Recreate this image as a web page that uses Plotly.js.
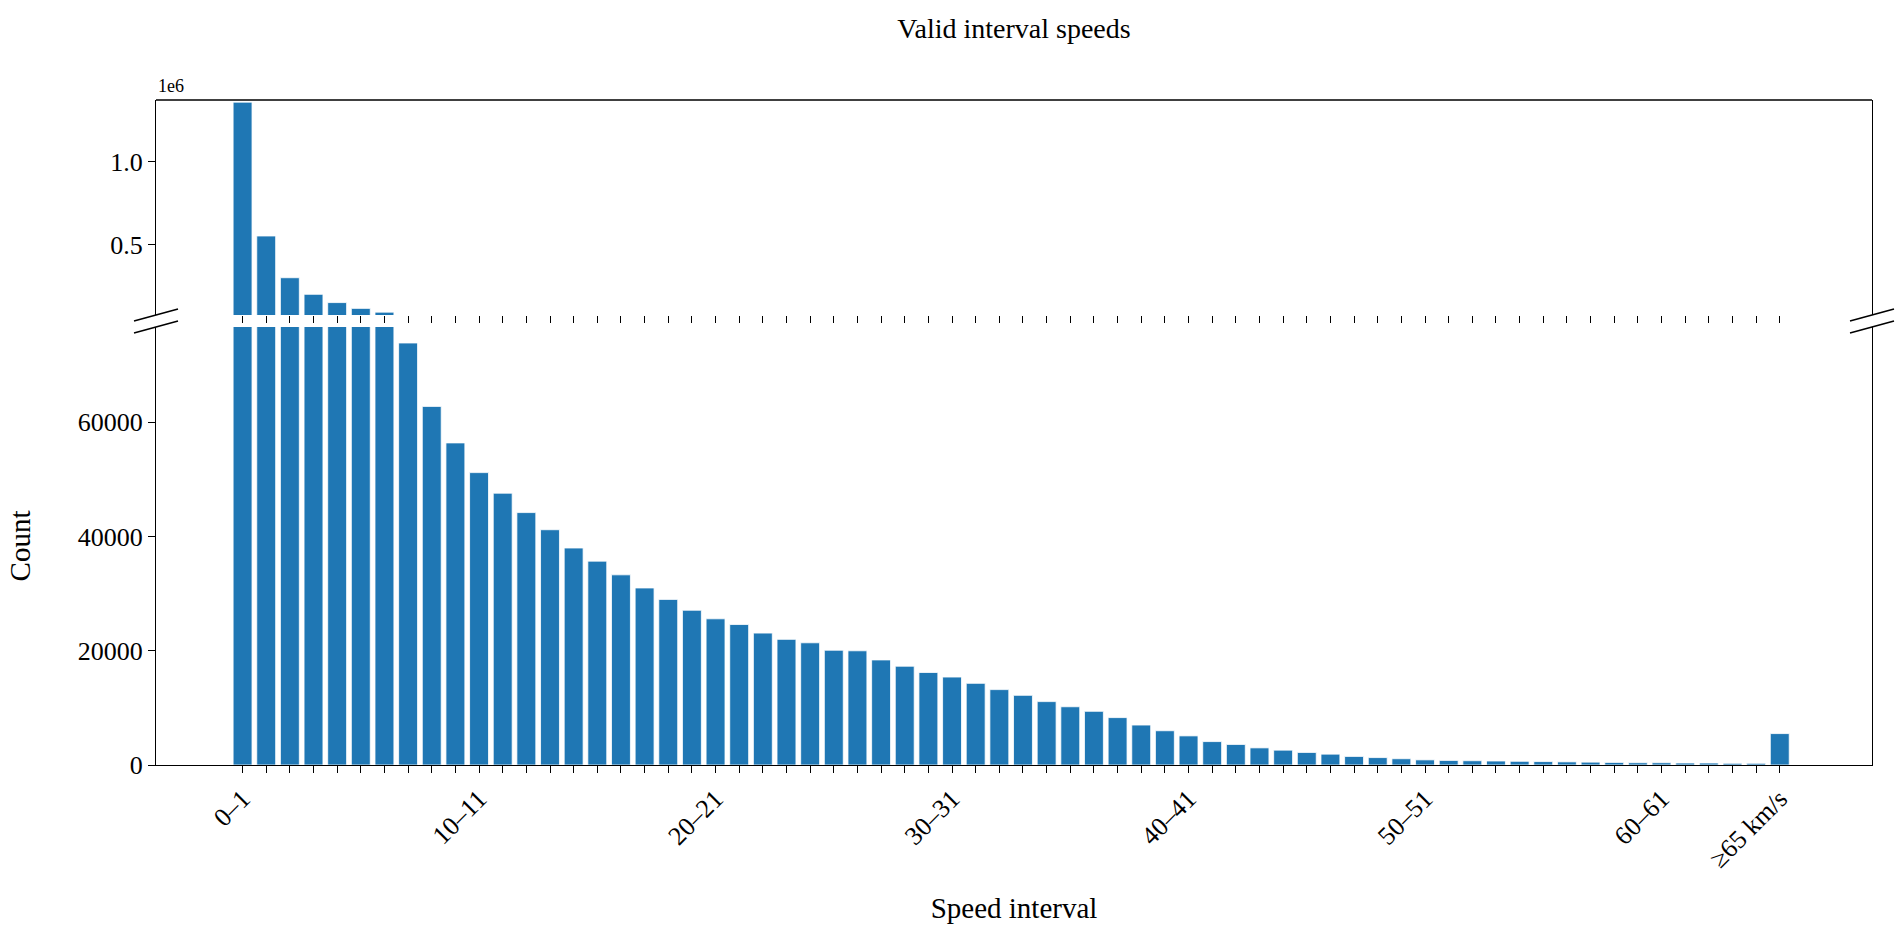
<!DOCTYPE html>
<html><head><meta charset="utf-8">
<script src="https://cdn.plot.ly/plotly-3.0.1.min.js"></script>
<style>body{margin:0}#c{width:1902px;height:942px}</style>
</head><body><div id="c"></div>
<script>
const categories = [];
for (let i = 0; i < 65; i++) categories.push(i + '–' + (i + 1));
categories.push('≥65 km/s');
const counts = [1360000, 552000, 300000, 200000, 150000, 115000, 92000, 73900, 62800, 56400,
  51200, 47600, 44200, 41200, 38000, 35700, 33300, 31000, 29000, 27100,
  25600, 24600, 23100, 22000, 21400, 20100, 20000, 18400, 17300, 16200,
  15400, 14300, 13200, 12200, 11100, 10200, 9400, 8300, 7000, 6000,
  5100, 4100, 3600, 3000, 2600, 2200, 1900, 1500, 1300, 1100,
  900, 800, 750, 700, 650, 600, 550, 500, 450, 400,
  400, 350, 350, 300, 300, 5500];
const labelEvery = 10;
const topTickVals = [500000, 1000000];
const topTickText = ['0.5', '1.0'];
const bottomTickVals = [0, 20000, 40000, 60000];

const xs = categories.map((c, i) => i);
const ticktext = categories.map((c, i) => (i % labelEvery === 0 || i === categories.length - 1) ? c : '');
const F = 'Liberation Serif, Times New Roman, serif';
const col = '#1f77b4';

const W = 1902, H = 942, L = 156, R = 30, T = 100, B = 177;
const px = x => (x - L) / (W - L - R);
const py = y => (H - B - y) / (H - T - B);

const bar = (xa, ya) => ({type: 'bar', x: xs, y: counts, xaxis: xa, yaxis: ya,
  marker: {color: col, line: {color: '#ffffff', width: 0.8}}, hoverinfo: 'y'});

const breaks = [];
[[134, 178], [1850, 1894]].forEach(([a, b]) => {
  [315, 327].forEach(y0 => breaks.push({type: 'line', xref: 'paper', yref: 'paper',
    x0: px(a), y0: py(y0 + 6), x1: px(b), y1: py(y0 - 6), line: {color: '#000', width: 1.6}}));
});

const layout = {
  width: W, height: H, margin: {l: L, r: R, t: T, b: B},
  paper_bgcolor: '#fff', plot_bgcolor: '#fff', showlegend: false, bargap: 0.2,
  font: {family: F, size: 26, color: '#000'},
  title: {text: 'Valid interval speeds', x: 0.5, xref: 'paper', y: 1 - 28 / H, yanchor: 'middle', font: {family: F, size: 28}},
  xaxis: {domain: [0, 1], range: [-3.66, 68.9], anchor: 'y', tickvals: xs, ticktext: ticktext,
    tickangle: -45, ticks: 'outside', ticklen: 7, tickcolor: '#000', showline: true, linecolor: '#000', linewidth: 1.3,
    showgrid: false, zeroline: false, tickfont: {family: F, size: 26},
    title: {text: 'Speed interval', standoff: 25, font: {family: F, size: 29}}},
  yaxis: {domain: [0, py(327)], range: [0, 76700], tickvals: bottomTickVals, tickformat: 'd', ticks: 'outside', ticklen: 7,
    tickcolor: '#000', showline: true, mirror: true, linecolor: '#000', linewidth: 1.3, showgrid: false, zeroline: false,
    tickfont: {family: F, size: 26}, title: {text: 'Count', standoff: 38, font: {family: F, size: 29}}},
  xaxis2: {domain: [0, 1], range: [-3.66, 68.9], anchor: 'y2', tickvals: xs, showticklabels: false,
    ticks: 'outside', ticklen: 7, tickcolor: '#000', showline: false, showgrid: false, zeroline: false},
  yaxis2: {domain: [py(315), 1], range: [75000, 1373000], tickvals: topTickVals, ticktext: topTickText,
    ticks: 'outside', ticklen: 7, tickcolor: '#000', showline: true, mirror: true, linecolor: '#000', linewidth: 1.3,
    showgrid: false, zeroline: false, tickfont: {family: F, size: 26}},
  shapes: [{type: 'line', xref: 'paper', yref: 'paper', x0: 0, x1: 1, y0: 1, y1: 1, line: {color: '#000', width: 1.3}}].concat(breaks),
  annotations: [{text: '1e6', xref: 'paper', yref: 'paper', x: 0, y: 1, xanchor: 'left', yanchor: 'bottom',
    showarrow: false, yshift: 2, font: {family: F, size: 18}}]
};
Plotly.newPlot('c', [bar('x', 'y'), bar('x2', 'y2')], layout, {displayModeBar: false});
</script></body></html>
